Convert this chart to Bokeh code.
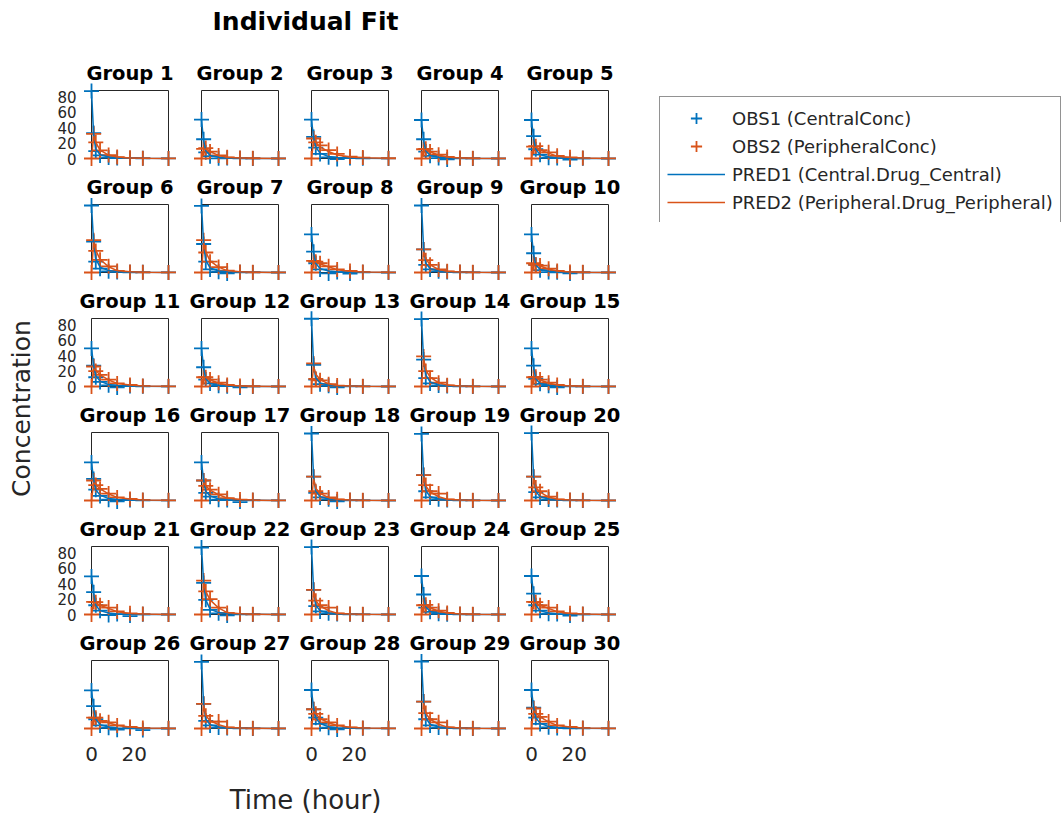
from bokeh.plotting import figure
from bokeh.models import Range1d, FixedTicker, Legend, LegendItem, Spacer, ColumnDataSource
from bokeh.layouts import row, column
from bokeh.embed import file_html
from bokeh.resources import INLINE

# ---------------- data ----------------
TIME_HOURS = [0, 1, 2, 4, 8, 12, 18, 24, 36]
GROUP_LABELS = ["Group %d" % i for i in range(1, 31)]
Y_TICKS = [0, 20, 40, 60, 80]
X_TICKS = [0, 20]
LEGEND_LABELS = ["OBS1 (CentralConc)", "OBS2 (PeripheralConc)",
                 "PRED1 (Central.Drug_Central)", "PRED2 (Peripheral.Drug_Peripheral)"]
MAIN_TITLE = "Individual Fit"
X_LABEL = "Time (hour)"
Y_LABEL = "Concentration"

OBS1_CENTRAL = [
    [87.5, 33, 9.5, 4.0, 1.2, 0.6, 0.4, 0.2, 0.1],
    [50.5, 25, 8, 3, 0.2, 0.5, 0.3, 0.1, 0],
    [50.5, 28, 14, 6, 1.5, -0.8, 0.5, 0.2, 0.1],
    [50, 25, 9, 3.5, 0.5, -1.2, 0.3, 0.1, 0],
    [50, 29, 12, 5, 1, 0.5, -1.5, 0.2, 0],
    [87, 40, 14, 5, 1.5, 0.8, 0.3, 0.2, 0.1],
    [86.5, 37, 14, 4, 1, -1.2, 0.3, 0.1, 0],
    [49.5, 27, 12, 4, -1.2, 0.5, -1.5, 0.2, 0],
    [87, 30, 10, 4, 1.5, 0.5, 0.3, 0.1, 0],
    [49.5, 25, 10, 3, 0.5, 0.3, -1.2, 0.1, 0],
    [49.5, 27, 12, 6, 1.5, -1.2, 0.5, 0.2, 0.1],
    [49.5, 25, 9, 4, 1, 0.4, -1.2, 0.1, 0],
    [88, 28, 9, 3, 1, -1.2, 0.3, 0.1, 0],
    [87.5, 35, 11, 4, 1.2, 0.6, 0.3, 0.1, 0],
    [49.5, 27, 10, 3.5, 1, -1.2, 0.3, 0.1, 0],
    [49.5, 28, 14, 6, 1, -1.2, 0.5, 0.2, 0.1],
    [49.5, 26, 10, 5, 1, 0.5, -2, 0.2, 0.1],
    [87, 31, 10, 4, 1.5, -1.2, 0.3, 0.1, 0],
    [86.5, 33, 12, 4, 1.5, 0.6, 0.3, 0.1, 0],
    [87.5, 31, 11, 4, 1.2, 0.5, 0.3, 0.1, 0],
    [49.5, 29, 12, 5, -0.8, 0.5, -2, 0.2, 0],
    [87, 41, 19, 6, 1.5, -1.2, 0.3, 0.1, 0],
    [87.5, 32, 11, 4, 1.5, 0.5, 0.3, 0.1, 0],
    [50, 26, 9, 3.5, 1, 0.4, 0.2, 0.1, 0],
    [50, 27, 12, 5, 1, 0.5, -1.5, 0.2, 0],
    [49.5, 29, 12, 4, 1, -1.5, 0.3, -2, 0],
    [86.5, 32, 10, 4, 1.2, 0.5, 0.3, 0.1, 0],
    [50, 25, 14, 6, 1, -1.2, 0.5, 0.2, 0.1],
    [87, 35, 12, 4, 1.2, 0.5, 0.3, 0.1, 0],
    [50, 27, 14, 6, 1.5, 0.5, 0.3, 0.2, 0.1],
]

OBS2_PERIPHERAL = [
    [0, 32, 21, 10.5, 4.5, 1.8, 0.9, 0.4, 0.1],
    [0, 12.5, 13.5, 9, 4, 1.5, 0.6, 0.3, 0.1],
    [0, 26, 21, 17, 11, 6, 2.5, 1.2, 0.3],
    [0, 12, 12.5, 9, 5, 2, 0.8, 0.3, 0.1],
    [0, 15.5, 16, 11, 8, 3.5, 1.5, 0.5, 0.1],
    [0, 42, 28, 16.5, 8, 2, 0.8, 0.3, 0.1],
    [0, 42, 26, 14, 7, 2.5, 0.8, 0.3, 0.1],
    [0, 15, 14, 12, 8, 4, 2, 0.8, 0.2],
    [0, 30, 16, 10, 4, 1.5, 0.6, 0.2, 0.1],
    [0, 12, 10, 9, 5, 2, 0.8, 0.3, 0.1],
    [0, 26, 20, 15, 9, 4, 2, 0.8, 0.2],
    [0, 12, 12, 9, 5, 2, 0.8, 0.3, 0.1],
    [0, 30, 10, 8, 3, 1.2, 0.5, 0.2, 0.1],
    [0, 39, 20, 11, 5, 1.5, 0.6, 0.2, 0.1],
    [0, 12, 12.5, 9, 5, 2, 0.8, 0.3, 0.1],
    [0, 26, 20, 15, 9, 4, 2, 0.8, 0.2],
    [0, 26, 19, 14, 8, 3, 1.2, 0.5, 0.1],
    [0, 31, 12, 9, 4, 1.5, 0.6, 0.2, 0.1],
    [0, 33, 20, 12, 9, 1.5, 0.6, 0.2, 0.1],
    [0, 31, 17, 12, 5, 1.5, 0.6, 0.2, 0.1],
    [0, 16.5, 16, 12, 9, 4, 1.5, 0.5, 0.1],
    [0, 44, 30, 20, 9, 2, 0.8, 0.3, 0.1],
    [0, 32, 18, 12, 9, 1.5, 0.6, 0.2, 0.1],
    [0, 12, 12.5, 9, 5, 2, 0.8, 0.3, 0.1],
    [0, 16.5, 16, 12, 9, 4, 1.5, 0.5, 0.1],
    [0, 14, 14, 10, 8, 4, 2, 0.8, 0.2],
    [0, 32, 16.5, 9, 9, 1.5, 0.6, 0.2, 0.1],
    [0, 25, 19, 12, 8, 4, 1.5, 0.6, 0.2],
    [0, 35, 20, 12, 8, 1.5, 0.6, 0.2, 0.1],
    [0, 26, 19, 15, 9, 4, 2, 0.8, 0.2],
]

PRED1_CENTRAL = [
    [87.5, 31, 12, 5, 2, 1, 0.5, 0.3, 0.1],
    [50, 23, 10, 4, 1.5, 0.7, 0.3, 0.1, 0],
    [50, 27, 15, 7, 2.5, 1.2, 0.6, 0.3, 0.1],
    [50, 23, 10, 4, 1.5, 0.7, 0.3, 0.1, 0],
    [50, 26, 12, 5, 2, 0.8, 0.4, 0.1, 0],
    [87.5, 39, 18, 7, 2.5, 1, 0.4, 0.2, 0.1],
    [87.5, 36, 16, 6, 2, 0.9, 0.4, 0.2, 0.1],
    [50, 25, 12, 5, 2, 0.9, 0.4, 0.2, 0],
    [87.5, 30, 12, 5, 2, 0.9, 0.4, 0.2, 0.1],
    [50, 23, 10, 4, 1.5, 0.7, 0.3, 0.1, 0],
    [50, 27, 14, 7, 2.5, 1.2, 0.6, 0.3, 0.1],
    [50, 24, 10, 4, 1.5, 0.7, 0.3, 0.1, 0],
    [87.5, 28, 11, 4.5, 1.8, 0.8, 0.4, 0.2, 0.1],
    [87.5, 34, 15, 6, 2, 0.9, 0.4, 0.2, 0.1],
    [50, 25, 10, 4, 1.5, 0.7, 0.3, 0.1, 0],
    [50, 27, 14, 7, 2.5, 1.2, 0.6, 0.3, 0.1],
    [50, 26, 12, 6, 2, 1, 0.5, 0.2, 0.1],
    [87.5, 30, 12, 5, 2, 0.9, 0.4, 0.2, 0.1],
    [87.5, 32, 13, 5, 2, 0.9, 0.4, 0.2, 0.1],
    [87.5, 31, 12, 5, 2, 0.9, 0.4, 0.2, 0.1],
    [50, 27, 12, 5, 2, 0.8, 0.4, 0.1, 0],
    [87.5, 41, 19, 7, 2.5, 1, 0.4, 0.2, 0.1],
    [87.5, 31, 12, 5, 2, 0.9, 0.4, 0.2, 0.1],
    [50, 24, 10, 4, 1.5, 0.7, 0.3, 0.1, 0],
    [50, 26, 12, 5, 2, 0.8, 0.4, 0.1, 0],
    [50, 27, 12, 5, 2, 0.8, 0.4, 0.1, 0],
    [87.5, 31, 12, 5, 2, 0.9, 0.4, 0.2, 0.1],
    [50, 26, 14, 6.5, 2.3, 1.1, 0.5, 0.2, 0.1],
    [87.5, 34, 14, 5.5, 2, 0.9, 0.4, 0.2, 0.1],
    [50, 27, 14, 7, 2.5, 1.2, 0.6, 0.3, 0.1],
]

PRED2_PERIPHERAL = [
    [0, 29, 21, 11, 4.5, 2, 0.8, 0.3, 0.1],
    [0, 11.5, 12.5, 9, 4, 1.7, 0.7, 0.2, 0],
    [0, 23, 21, 15, 9, 4.5, 2, 0.9, 0.2],
    [0, 11, 12, 8.5, 4.5, 2, 0.8, 0.3, 0.1],
    [0, 14, 15, 11, 7, 3, 1.3, 0.5, 0.1],
    [0, 39, 29, 17, 7.5, 2.5, 0.9, 0.3, 0.1],
    [0, 38, 27, 15, 7, 2.5, 0.9, 0.3, 0.1],
    [0, 14, 14, 11, 7.5, 3.5, 1.7, 0.7, 0.2],
    [0, 27, 18, 10, 4, 1.5, 0.6, 0.2, 0.1],
    [0, 11, 11, 8.5, 4.5, 2, 0.8, 0.3, 0.1],
    [0, 23, 21, 15, 8.5, 4, 1.8, 0.8, 0.2],
    [0, 11, 12, 8.5, 4.5, 2, 0.8, 0.3, 0.1],
    [0, 26, 16, 9, 3.5, 1.3, 0.5, 0.2, 0.1],
    [0, 36, 22, 12, 5, 1.8, 0.7, 0.3, 0.1],
    [0, 11.5, 12, 8.5, 4.5, 2, 0.8, 0.3, 0.1],
    [0, 23, 21, 15, 8.5, 4, 1.8, 0.8, 0.2],
    [0, 23, 19, 13.5, 7.5, 3.2, 1.3, 0.5, 0.1],
    [0, 28, 16, 9, 4, 1.5, 0.6, 0.2, 0.1],
    [0, 31, 19, 11, 5, 1.7, 0.6, 0.2, 0.1],
    [0, 29, 17, 11, 4.5, 1.6, 0.6, 0.2, 0.1],
    [0, 15, 15.5, 12, 8, 3.5, 1.4, 0.5, 0.1],
    [0, 41, 30, 19, 8.5, 2.5, 0.9, 0.3, 0.1],
    [0, 30, 18, 11, 5, 1.7, 0.6, 0.2, 0.1],
    [0, 11, 12, 8.5, 4.5, 2, 0.8, 0.3, 0.1],
    [0, 15, 15.5, 12, 8, 3.5, 1.4, 0.5, 0.1],
    [0, 13, 14, 10.5, 7.5, 3.8, 1.8, 0.7, 0.2],
    [0, 30, 17, 10, 5, 1.7, 0.6, 0.2, 0.1],
    [0, 22, 19, 13, 7.5, 3.8, 1.6, 0.7, 0.2],
    [0, 33, 20, 12, 5.5, 1.8, 0.7, 0.3, 0.1],
    [0, 23, 20, 15, 8.5, 4, 1.8, 0.8, 0.2],
]

# ---------------- styling ----------------
FONT = "DejaVu Sans"
AX = "#262626"
BLUE = "#0072BD"
ORANGE = "#D95319"
X_MAX = 36
Y_MAX = 88.3
MARK = 15
LW = 1.5
MLW = 1.8
TOP = 35      # space above each axes box (group title)
BOT = 9       # space below each axes box
FRAME_W, FRAME_H = 77, 70
FIRST_FRAME_TOP = 88


def blank(fig):
    fig.axis.visible = False
    fig.grid.visible = False
    fig.outline_line_color = None
    fig.background_fill_color = "white"
    fig.border_fill_color = "white"


def make_panel(i):
    r, c = divmod(i, 5)
    left = 40 if c == 0 else 20
    bottom = 40 if r == 5 else BOT
    p = figure(width=left + FRAME_W + 13, height=TOP + FRAME_H + bottom,
               min_border_left=left, min_border_right=13,
               min_border_top=TOP, min_border_bottom=bottom,
               x_range=Range1d(0, X_MAX), y_range=Range1d(0, Y_MAX),
               output_backend="svg", toolbar_location=None, title=GROUP_LABELS[i])
    p.title.align = "center"
    p.title.text_font = FONT
    p.title.text_font_size = "19.5px"
    p.title.text_font_style = "bold"
    p.title.text_color = "black"
    p.title.standoff = 12
    p.grid.visible = False
    p.outline_line_color = AX
    p.outline_line_width = 1
    p.outline_line_alpha = 1
    p.background_fill_color = "white"
    p.border_fill_color = "white"

    show_y = (c == 0 and r % 2 == 0)
    show_x = (r == 5 and c % 2 == 0)
    for ax, show, ticks, size, stand in ((p.yaxis[0], show_y, Y_TICKS, "15px", 15),
                                         (p.xaxis[0], show_x, X_TICKS, "20px", 18)):
        if not show:
            ax.visible = False
            continue
        ax.ticker = FixedTicker(ticks=ticks)
        ax.axis_line_color = None
        ax.major_tick_line_color = None
        ax.minor_tick_line_color = None
        ax.major_tick_out = 0
        ax.major_tick_in = 0
        ax.minor_tick_out = 0
        ax.major_label_standoff = stand
        ax.major_label_text_font = FONT
        ax.major_label_text_font_size = size
        ax.major_label_text_color = AX

    src = ColumnDataSource(dict(t=TIME_HOURS, o1=OBS1_CENTRAL[i], o2=OBS2_PERIPHERAL[i],
                                p1=PRED1_CENTRAL[i], p2=PRED2_PERIPHERAL[i]))
    p.scatter("t", "o1", source=src, marker="cross", size=MARK, line_color=BLUE,
              line_width=MLW, level="overlay")
    p.scatter("t", "o2", source=src, marker="cross", size=MARK, line_color=ORANGE,
              line_width=MLW, level="overlay")
    p.line("t", "p1", source=src, line_color=BLUE, line_width=LW, level="overlay")
    p.line("t", "p2", source=src, line_color=ORANGE, line_width=LW, level="overlay")
    return p


panels = [make_panel(i) for i in range(30)]
grid_rows = [row(*panels[r * 5:(r + 1) * 5]) for r in range(6)]

# main title
TOP_PAD = 4
tfig = figure(width=508, height=FIRST_FRAME_TOP - TOP - TOP_PAD, min_border=0,
              toolbar_location=None, output_backend="svg",
              x_range=Range1d(0, 1), y_range=Range1d(0, 1), title=MAIN_TITLE)
blank(tfig)
tfig.title.align = "center"
tfig.title.text_font = FONT
tfig.title.text_font_size = "25px"
tfig.title.text_font_style = "bold"
tfig.title.text_color = "black"
tfig.title.standoff = 0

# x label
xfig = figure(width=508, height=46, min_border=0, toolbar_location=None, output_backend="svg",
              x_range=Range1d(0, 1), y_range=Range1d(0, 1), title=X_LABEL,
              title_location="below")
blank(xfig)
xfig.title.align = "center"
xfig.title.text_font = FONT
xfig.title.text_font_size = "26px"
xfig.title.text_font_style = "normal"
xfig.title.text_color = AX
xfig.title.standoff = 0

# y label
lfig = figure(width=47, height=800, min_border=0, toolbar_location=None, output_backend="svg",
              x_range=Range1d(0, 1), y_range=Range1d(0, 1), title=Y_LABEL,
              title_location="left")
blank(lfig)
lfig.title.align = "center"
lfig.title.text_font = FONT
lfig.title.text_font_size = "25px"
lfig.title.text_font_style = "normal"
lfig.title.text_color = AX
lfig.title.standoff = 0

# legend (its renderers hold group 1's series but sit outside this small figure's ranges)
legfig = figure(width=402, height=126, min_border=0, toolbar_location=None, output_backend="svg",
                x_range=Range1d(-200, -199), y_range=Range1d(-200, -199))
blank(legfig)
lsrc = ColumnDataSource(dict(t=TIME_HOURS, o1=OBS1_CENTRAL[0], o2=OBS2_PERIPHERAL[0],
                             p1=PRED1_CENTRAL[0], p2=PRED2_PERIPHERAL[0]))
lr1 = legfig.scatter("t", "o1", source=lsrc, marker="cross", size=MARK, line_color=BLUE, line_width=MLW)
lr2 = legfig.scatter("t", "o2", source=lsrc, marker="cross", size=MARK, line_color=ORANGE, line_width=MLW)
lr3 = legfig.line("t", "p1", source=lsrc, line_color=BLUE, line_width=LW)
lr4 = legfig.line("t", "p2", source=lsrc, line_color=ORANGE, line_width=LW)
legend = Legend(items=[LegendItem(label=lab, renderers=[rr]) for lab, rr in
                       zip(LEGEND_LABELS, [lr1, lr2, lr3, lr4])],
                location="top_left", margin=0, padding=7, spacing=0,
                glyph_width=58, glyph_height=28, label_height=28, label_width=320,
                label_standoff=7, label_text_font=FONT, label_text_font_size="18px",
                label_text_color=AX, border_line_color=AX, border_line_width=1,
                background_fill_color="white", background_fill_alpha=1)
legfig.add_layout(legend, "center")

left_col = column(Spacer(width=51, height=8), row(Spacer(width=4, height=800), lfig))
mid = column(Spacer(width=570, height=TOP_PAD), tfig, *grid_rows, xfig)
right = column(Spacer(width=1, height=96), row(Spacer(width=38, height=1), legfig))
layout = row(left_col, mid, right)

open("out.html", "w").write(file_html(layout, INLINE))
